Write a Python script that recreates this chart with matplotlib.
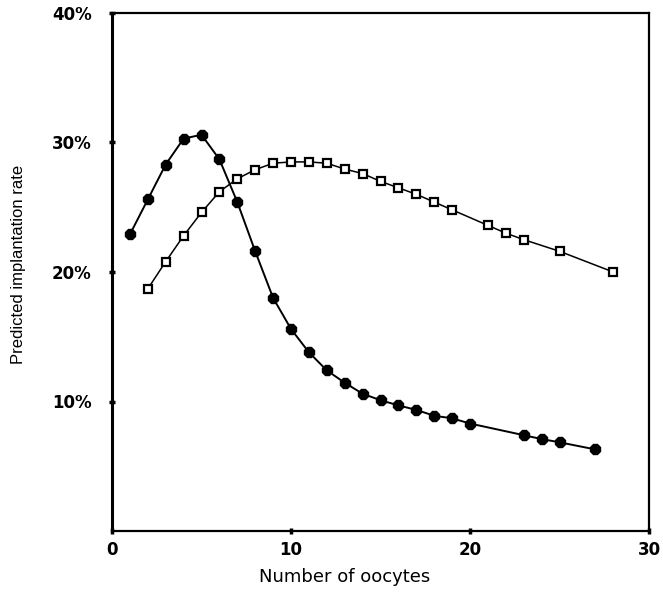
import matplotlib
matplotlib.use("Agg")
import matplotlib.pyplot as plt
from matplotlib.ticker import FuncFormatter

# Filled series
x_filled = [1, 2, 3, 4, 5, 6, 7, 8, 9, 10, 11, 12, 13, 14, 15, 16, 17, 18, 19, 20, 23, 24, 25, 27]
y_filled = [22.9, 25.6, 28.3, 30.3, 30.6, 28.7, 25.4, 21.6, 18.0, 15.6, 13.8, 12.4, 11.45, 10.6,
            10.1, 9.7, 9.35, 8.9, 8.7, 8.3, 7.4, 7.1, 6.85, 6.3]

# Open-square series
x_open = [2, 3, 4, 5, 6, 7, 8, 9, 10, 11, 12, 13, 14, 15, 16, 17, 18, 19, 21, 22, 23, 25, 28]
y_open = [18.7, 20.8, 22.8, 24.6, 26.2, 27.2, 27.9, 28.4, 28.5, 28.5, 28.4, 27.95, 27.6, 27.0,
          26.5, 26.0, 25.4, 24.8, 23.6, 23.0, 22.5, 21.6, 20.0]

x_ticks = [0, 10, 20, 30]
y_ticks = [10, 20, 30, 40]

plt.rcParams['font.family'] = ['DejaVu Sans']

fig = plt.figure(figsize=(6.63, 5.92), dpi=100)
ax = fig.add_axes([112/663, 61/592, (649-112)/663, (531-13)/592])

ax.plot(x_open, y_open, color='black', lw=1.1, marker='s', ms=5.5,
        mfc='white', mec='black', mew=1.6, zorder=2)
ax.plot(x_filled, y_filled, color='black', lw=1.4, marker='8', ms=8.5,
        mfc='black', mec='black', zorder=3)

ax.set_xlim(0, 30)
ax.set_ylim(0, 40)
ax.set_xticks(x_ticks)
ax.set_yticks(y_ticks)
ax.yaxis.set_major_formatter(FuncFormatter(lambda v, p: f"{int(v)}%"))

for s in ax.spines.values():
    s.set_linewidth(1.6)
ax.spines['left'].set_linewidth(2.2)

ax.tick_params(axis='both', direction='inout', length=5, width=2.5, labelsize=12)
ax.tick_params(axis='y', pad=12)
ax.tick_params(axis='x', pad=5)
for lab in ax.get_xticklabels() + ax.get_yticklabels():
    lab.set_fontweight('bold')

ax.set_xlabel("Number of oocytes", fontsize=13)
ax.xaxis.set_label_coords((345 - 112) / 537, (531 - 568) / 518)
ax.set_ylabel("Predicted implantation rate", fontsize=12,
              family=['Liberation Sans Narrow', 'Liberation Sans', 'DejaVu Sans'])
ax.yaxis.set_label_coords((26 - 112) / 537, (531 - 264) / 518)

fig.savefig("out.png", dpi=100)
